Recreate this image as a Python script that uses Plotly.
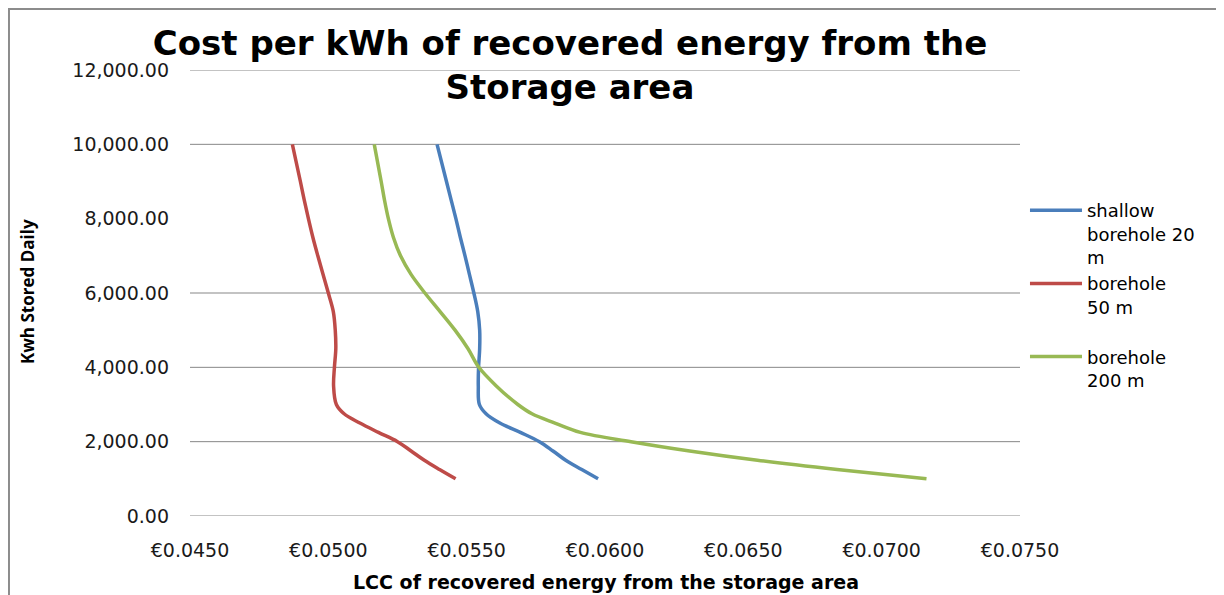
import plotly.graph_objects as go

# kWh stored daily (y) levels
kwh = [1000, 1250, 1500, 1750, 2000, 2250, 2500, 2750, 3000, 3500, 4000,
       4500, 5000, 5500, 6000, 6500, 7000, 7500, 8000, 8500, 9000, 10000]

# LCC of recovered energy (EUR/kWh) per series
lcc_shallow_20 = [0.05975, 0.05916, 0.05858, 0.05812, 0.05763, 0.05694, 0.05620,
                  0.05570, 0.05546, 0.05542, 0.05543, 0.05547, 0.05547, 0.05540,
                  0.05526, 0.05510, 0.05494, 0.05477, 0.05461, 0.05444, 0.05427, 0.05393]
lcc_borehole_50 = [0.05460, 0.05402, 0.05347, 0.05299, 0.05250, 0.05181, 0.05114,
                   0.05057, 0.05029, 0.05019, 0.05022, 0.05027, 0.05025, 0.05018,
                   0.05000, 0.04981, 0.04962, 0.04944, 0.04928, 0.04913, 0.04899, 0.04870]
lcc_borehole_200 = [0.07162, 0.06839, 0.06551, 0.06306, 0.06094, 0.05911, 0.05819,
                    0.05736, 0.05685, 0.05607, 0.05544, 0.05505, 0.05458, 0.05404,
                    0.05349, 0.05299, 0.05261, 0.05235, 0.05217, 0.05203, 0.05191, 0.05166]

series_names = ["shallow<br>borehole 20<br>m", "borehole<br>50 m<br>&nbsp;", "borehole<br>200 m"]
series_colors = ["#4A7EBB", "#BE4B48", "#98B954"]

y_ticks = [0, 2000, 4000, 6000, 8000, 10000, 12000]
grid_levels = [0, 2000, 4000, 6000, 10000, 12000]
x_ticks = [0.045, 0.050, 0.055, 0.060, 0.065, 0.070, 0.075]
x_ticktext = [f"€{v:.4f}" for v in x_ticks]

fig = go.Figure()
for name, xs, col in zip(series_names,
                         [lcc_shallow_20, lcc_borehole_50, lcc_borehole_200],
                         series_colors):
    fig.add_trace(go.Scatter(x=xs, y=kwh, mode="lines", name=name,
                             line=dict(color=col, width=3.5, shape="spline", smoothing=1.0)))

for g in grid_levels:
    fig.add_shape(type="line", xref="paper", yref="y", x0=0, x1=1, y0=g, y1=g,
                  line=dict(color="#878787", width=1), layer="below")

# chart-area frame
fig.add_shape(type="rect", xref="paper", yref="paper", x0=-0.2181, x1=1.27,
              y0=-0.3, y1=1.1368, line=dict(color="#8c8c8c", width=2), layer="below")

fig.add_annotation(text="<b>Kwh Stored Daily</b>", xref="paper", yref="paper",
                   x=-0.1952, y=0.5045, xanchor="center", yanchor="middle",
                   textangle=-90, showarrow=False,
                   font=dict(family="Open Sans", size=17, color="#000000"))

fig.add_annotation(text="<b>LCC of recovered energy from the storage area</b>",
                   xref="paper", yref="paper", x=0.501, y=-0.148,
                   xanchor="center", yanchor="middle", showarrow=False,
                   font=dict(family="DejaVu Sans", size=19, color="#000000"))

fig.update_layout(
    width=1224, height=595,
    margin=dict(l=182, r=212, t=62, b=87),
    paper_bgcolor="white", plot_bgcolor="white",
    title=dict(text="<b>Cost per kWh of recovered energy from the<br>Storage area</b>",
               x=562 / 1224, xanchor="center", y=1 - 47 / 595, yanchor="top",
               font=dict(family="DejaVu Sans", size=34, color="#000000")),
    xaxis=dict(range=[0.045, 0.075], tickvals=x_ticks, ticktext=x_ticktext,
               showgrid=False, zeroline=False, showline=False, ticks="",
               ticklabelstandoff=21,
               tickfont=dict(family="DejaVu Sans", size=19, color="#1a1a1a")),
    yaxis=dict(range=[0, 12000], tickvals=y_ticks, tickformat=",.2f",
               showgrid=False, zeroline=False, showline=False, ticks="",
               ticklabelstandoff=20,
               tickfont=dict(family="DejaVu Sans", size=19, color="#1a1a1a")),
    legend=dict(x=1.006, xanchor="left", y=0.7265, yanchor="top", valign="top",
                itemwidth=52,
                font=dict(family="DejaVu Sans", size=18, color="#000000"),
                bgcolor="rgba(0,0,0,0)", tracegroupgap=0),
    showlegend=True,
)

fig.write_html("out.html")
